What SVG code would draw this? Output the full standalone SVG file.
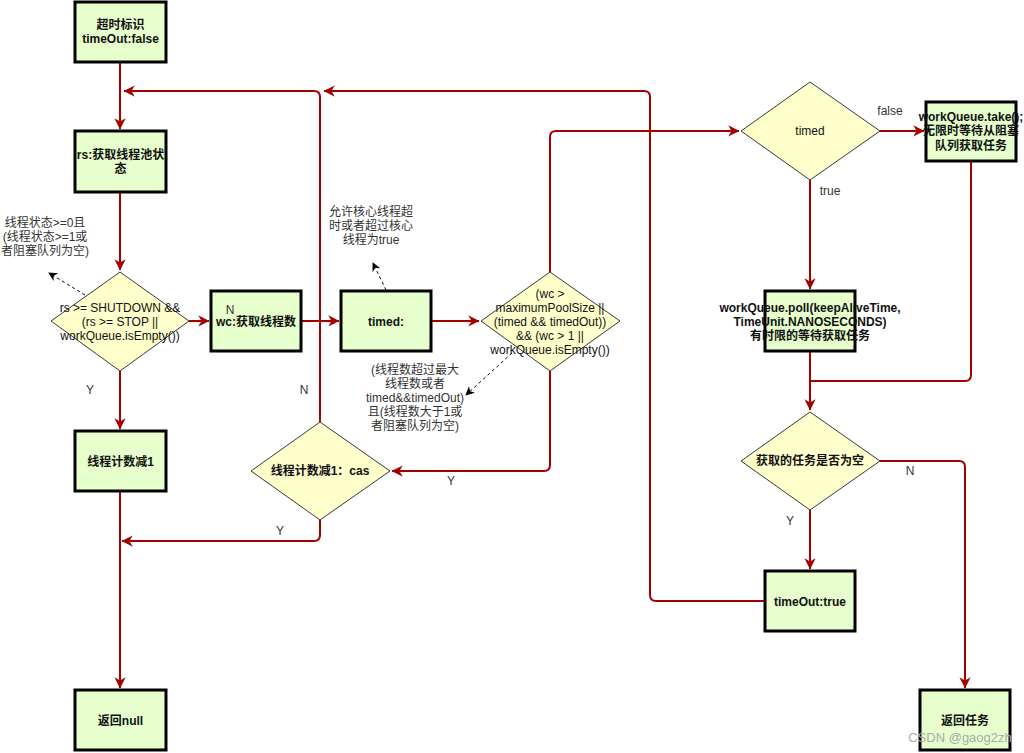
<svg xmlns="http://www.w3.org/2000/svg" width="1024" height="753" viewBox="0 0 1024 753">
<style>
.box{fill:#E6FFCC;stroke:#000;stroke-width:3}
.dia{fill:#FFFFCC;stroke:#36393d;stroke-width:1}
.t{font-family:"Liberation Sans","Noto Sans CJK SC",sans-serif;font-size:12px;fill:#111;text-anchor:middle}
.b{font-weight:bold}
.lbl{font-family:"Liberation Sans","Noto Sans CJK SC",sans-serif;font-size:12px;fill:#333;text-anchor:middle}
.e{fill:none;stroke:#A50000;stroke-width:2}
.d{fill:none;stroke:#000;stroke-width:1;stroke-dasharray:3,3}
</style>
<defs>
<marker id="ar" viewBox="0 0 10 10" refX="9" refY="5" markerWidth="7" markerHeight="7" markerUnits="userSpaceOnUse" orient="auto" overflow="visible">
<path d="M0,0 L10,5 L0,10 L3,5 z" fill="#A50000" transform="scale(1.6) translate(-4,-1.9)"/>
</marker>
<marker id="ad" viewBox="0 0 10 10" refX="9" refY="5" markerWidth="9" markerHeight="9" markerUnits="userSpaceOnUse" orient="auto">
<path d="M0,0 L10,5 L0,10 L3,5 z" fill="#000"/>
</marker>
</defs>
<rect width="1024" height="753" fill="#fff"/>
<g id="connectors">
<path class="e" d="M120,62 V129" marker-end="url(#ar)"/>
<path class="e" d="M320,422 V97 Q320,91 314,91 H124" marker-end="url(#ar)"/>
<path class="e" d="M765,601 H656 Q650,601 650,595 V97 Q650,91 644,91 H324" marker-end="url(#ar)"/>
<path class="e" d="M120,192 V270" marker-end="url(#ar)"/>
<path class="e" d="M189,321 H209" marker-end="url(#ar)"/>
<path class="e" d="M301,321 H339" marker-end="url(#ar)"/>
<path class="e" d="M431,321 H479" marker-end="url(#ar)"/>
<path class="e" d="M550,272 V137 Q550,131 556,131 H739" marker-end="url(#ar)"/>
<path class="e" d="M550,371 V465 Q550,471 544,471 H392" marker-end="url(#ar)"/>
<path class="e" d="M120,371 V429" marker-end="url(#ar)"/>
<path class="e" d="M320,520 V535 Q320,541 314,541 H122" marker-end="url(#ar)"/>
<path class="e" d="M120,491 V688" marker-end="url(#ar)"/>
<path class="e" d="M880,131 H924" marker-end="url(#ar)"/>
<path class="e" d="M810,180 V289" marker-end="url(#ar)"/>
<path class="e" d="M810,351 V410" marker-end="url(#ar)"/>
<path class="e" d="M971,161 V375 Q971,381 965,381 H810"/>
<path class="e" d="M880,461 H959 Q965,461 965,467 V688" marker-end="url(#ar)"/>
<path class="e" d="M810,510 V569" marker-end="url(#ar)"/>
<path class="d" d="M85,295 L49,273" marker-end="url(#ad)"/>
<path class="d" d="M386,290 L373,263" marker-end="url(#ad)"/>
<path class="d" d="M512,353 L466,395" marker-end="url(#ad)"/>
</g>
<g id="note1">
<text class="lbl"><tspan x="45" y="227">线程状态&gt;=0且</tspan><tspan x="45" y="241">(线程状态&gt;=1或</tspan><tspan x="45" y="255">者阻塞队列为空)</tspan></text>
</g>
<g id="note2">
<text class="lbl"><tspan x="371" y="216">允许核心线程超</tspan><tspan x="371" y="230">时或者超过核心</tspan><tspan x="371" y="244">线程为true</tspan></text>
</g>
<g id="note3">
<text class="lbl"><tspan x="415" y="374">(线程数超过最大</tspan><tspan x="415" y="388">线程数或者</tspan><tspan x="415" y="402">timed&amp;&amp;timedOut)</tspan><tspan x="415" y="416">且(线程数大于1或</tspan><tspan x="415" y="430">者阻塞队列为空)</tspan></text>
</g>
<g id="n1"><rect class="box" x="75" y="2" width="91" height="60"/><text class="t b"><tspan x="120.5" y="29">超时标识</tspan><tspan x="120.5" y="43">timeOut:false</tspan></text></g>
<g id="n2"><rect class="box" x="75" y="131" width="91" height="61"/><text class="t b"><tspan x="120.5" y="159">rs:获取线程池状</tspan><tspan x="120.5" y="173">态</tspan></text></g>
<g id="d1"><polygon class="dia" points="120,272 189,321 120,371 51,321"/><text class="t"><tspan x="120" y="312">rs &gt;= SHUTDOWN &amp;&amp;</tspan><tspan x="120" y="326">(rs &gt;= STOP ||</tspan><tspan x="120" y="340">workQueue.isEmpty())</tspan></text></g>
<g id="n3"><rect class="box" x="211" y="291" width="90" height="60"/><text class="t b" x="256" y="326">wc:获取线程数</text></g>
<g id="n4"><rect class="box" x="341" y="291" width="90" height="60"/><text class="t b" x="386" y="326">timed:</text></g>
<g id="d2"><polygon class="dia" points="550,272 620,321 550,371 481,321"/><text class="t"><tspan x="550" y="298">(wc &gt;</tspan><tspan x="550" y="312">maximumPoolSize ||</tspan><tspan x="550" y="326">(timed &amp;&amp; timedOut))</tspan><tspan x="550" y="340">&amp;&amp; (wc &gt; 1 ||</tspan><tspan x="550" y="354">workQueue.isEmpty())</tspan></text></g>
<g id="d3"><polygon class="dia" points="810,82 880,131 810,180 741,131"/><text class="t" x="810" y="135">timed</text></g>
<g id="n5"><rect class="box" x="926" y="102" width="90" height="59"/><text class="t b"><tspan x="971" y="121">workQueue.take();</tspan><tspan x="971" y="135">无限时等待从阻塞</tspan><tspan x="971" y="150">队列获取任务</tspan></text></g>
<g id="n6"><rect class="box" x="765" y="291" width="90" height="60"/><text class="t b"><tspan x="810" y="312">workQueue.poll(keepAliveTime,</tspan><tspan x="810" y="326">TimeUnit.NANOSECONDS)</tspan><tspan x="810" y="340">有时限的等待获取任务</tspan></text></g>
<g id="d4"><polygon class="dia" points="810,412 880,461 810,510 741,461"/><text class="t b" x="810" y="465">获取的任务是否为空</text></g>
<g id="n7"><rect class="box" x="765" y="571" width="90" height="60"/><text class="t b" x="810" y="606">timeOut:true</text></g>
<g id="n8"><rect class="box" x="920" y="690" width="90" height="60"/><text class="t b" x="965" y="725">返回任务</text></g>
<g id="n9"><rect class="box" x="75" y="431" width="91" height="60"/><text class="t b" x="120.5" y="466">线程计数减1</text></g>
<g id="d5"><polygon class="dia" points="320,422 390,471 320,520 251,471"/><text class="t b" x="320" y="475">线程计数减1：cas</text></g>
<g id="n10"><rect class="box" x="75" y="690" width="91" height="60"/><text class="t b" x="120.5" y="725">返回null</text></g>
<g id="edge-labels">
<text class="lbl" x="230" y="314">N</text>
<text class="lbl" x="90" y="394">Y</text>
<text class="lbl" x="304" y="394">N</text>
<text class="lbl" x="451" y="485">Y</text>
<text class="lbl" x="280" y="535">Y</text>
<text class="lbl" x="890" y="115">false</text>
<text class="lbl" x="830" y="195">true</text>
<text class="lbl" x="910" y="475">N</text>
<text class="lbl" x="790" y="525">Y</text>
</g>
<text x="960" y="742" font-family="Liberation Sans,sans-serif" font-size="13" fill="#aaa" text-anchor="middle">CSDN @gaog2zh</text>
</svg>
